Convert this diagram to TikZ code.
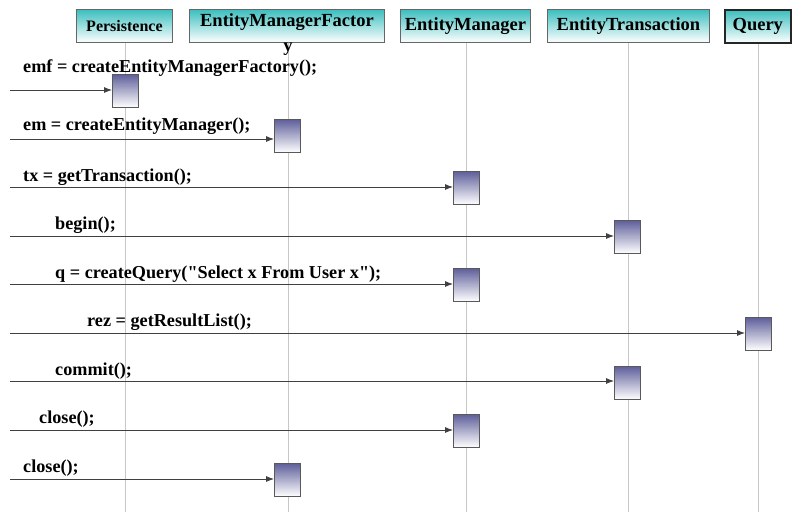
\documentclass[tikz,border=0pt]{standalone}
\usepackage{fontspec}
\setmainfont{Liberation Serif}[Ligatures=TeXOff]
\usetikzlibrary{arrows.meta}
\definecolor{hdrteal}{RGB}{60,190,190}
\definecolor{actblue}{RGB}{95,95,155}
\begin{document}
\begin{tikzpicture}[x=1pt,y=-1pt,
  hdr/.style={draw=black!60,line width=0.9pt,top color=hdrteal,bottom color=white,minimum height=33pt,inner sep=0pt,anchor=north west,font=\bfseries\fontsize{18.5}{20}\selectfont},
  act/.style={draw=black!65,line width=0.8pt,top color=actblue,bottom color=white,minimum width=26pt,minimum height=33pt,inner sep=0pt,anchor=north west},
  life/.style={draw=black!22,line width=0.6pt},
  msg/.style={draw=black!75,line width=0.8pt,-{Latex[length=8pt,width=6pt]}},
  lbl/.style={anchor=west,inner sep=0pt,font=\bfseries\fontsize{18.2}{20}\selectfont}]
\useasboundingbox (0,0) rectangle (801,512);
% lifelines
\coordinate (l1t) at (125,42); \coordinate (l1b) at (125,512);
\coordinate (l2t) at (288,42); \coordinate (l2b) at (288,512);
\coordinate (l3t) at (466,42); \coordinate (l3b) at (466,512);
\coordinate (l4t) at (628,42); \coordinate (l4b) at (628,512);
\coordinate (l5t) at (758,42); \coordinate (l5b) at (758,512);
\draw[life] (l1t) -- (l1b);
\draw[life] (l2t) -- (l2b);
\draw[life] (l3t) -- (l3b);
\draw[life] (l4t) -- (l4b);
\draw[life] (l5t) -- (l5b);
% headers
\node[hdr,minimum width=96pt,font=\bfseries\fontsize{16}{18}\selectfont] (h1) at (76,9) {Persistence};
\node[hdr,minimum width=195pt,text depth=12pt] (h2) at (189,9) {EntityManagerFactor};
\node[font=\bfseries\fontsize{18.5}{20}\selectfont,inner sep=0pt] (h2y) at (288,49) {y};
\node[hdr,minimum width=130pt] (h3) at (400,9) {EntityManager};
\node[hdr,minimum width=162pt] (h4) at (547,9) {EntityTransaction};
\node[hdr,minimum width=66pt,draw=black!85,line width=1.6pt] (h5) at (724,9) {Query};
% activations
\node[act] (b1) at (112,74) {};
\node[act] (b2) at (274,119) {};
\node[act] (b3) at (453,171) {};
\node[act] (b4) at (614,220) {};
\node[act] (b5) at (453,268) {};
\node[act] (b6) at (745,317) {};
\node[act] (b7) at (614,366) {};
\node[act] (b8) at (453,414) {};
\node[act] (b9) at (274,463) {};
% message starts
\coordinate (s1) at (10,90);
\coordinate (s2) at (10,139);
\coordinate (s3) at (10,187);
\coordinate (s4) at (10,236);
\coordinate (s5) at (10,284);
\coordinate (s6) at (10,333);
\coordinate (s7) at (10,381);
\coordinate (s8) at (10,430);
\coordinate (s9) at (10,479);
\draw[msg] (s1) -- (s1 -| b1.west);
\draw[msg] (s2) -- (s2 -| b2.west);
\draw[msg] (s3) -- (s3 -| b3.west);
\draw[msg] (s4) -- (s4 -| b4.west);
\draw[msg] (s5) -- (s5 -| b5.west);
\draw[msg] (s6) -- (s6 -| b6.west);
\draw[msg] (s7) -- (s7 -| b7.west);
\draw[msg] (s8) -- (s8 -| b8.west);
\draw[msg] (s9) -- (s9 -| b9.west);
% labels
\node[lbl] (t1) at (23,68) {emf = createEntityManagerFactory();};
\node[lbl] (t2) at (23,126) {em = createEntityManager();};
\node[lbl] (t3) at (23,177) {tx = getTransaction();};
\node[lbl] (t4) at (55,225) {begin();};
\node[lbl] (t5) at (55,274) {q = createQuery("Select x From User x");};
\node[lbl] (t6) at (87,322) {rez = getResultList();};
\node[lbl] (t7) at (55,371) {commit();};
\node[lbl] (t8) at (39,419) {close();};
\node[lbl] (t9) at (23,468) {close();};
\end{tikzpicture}
\end{document}
